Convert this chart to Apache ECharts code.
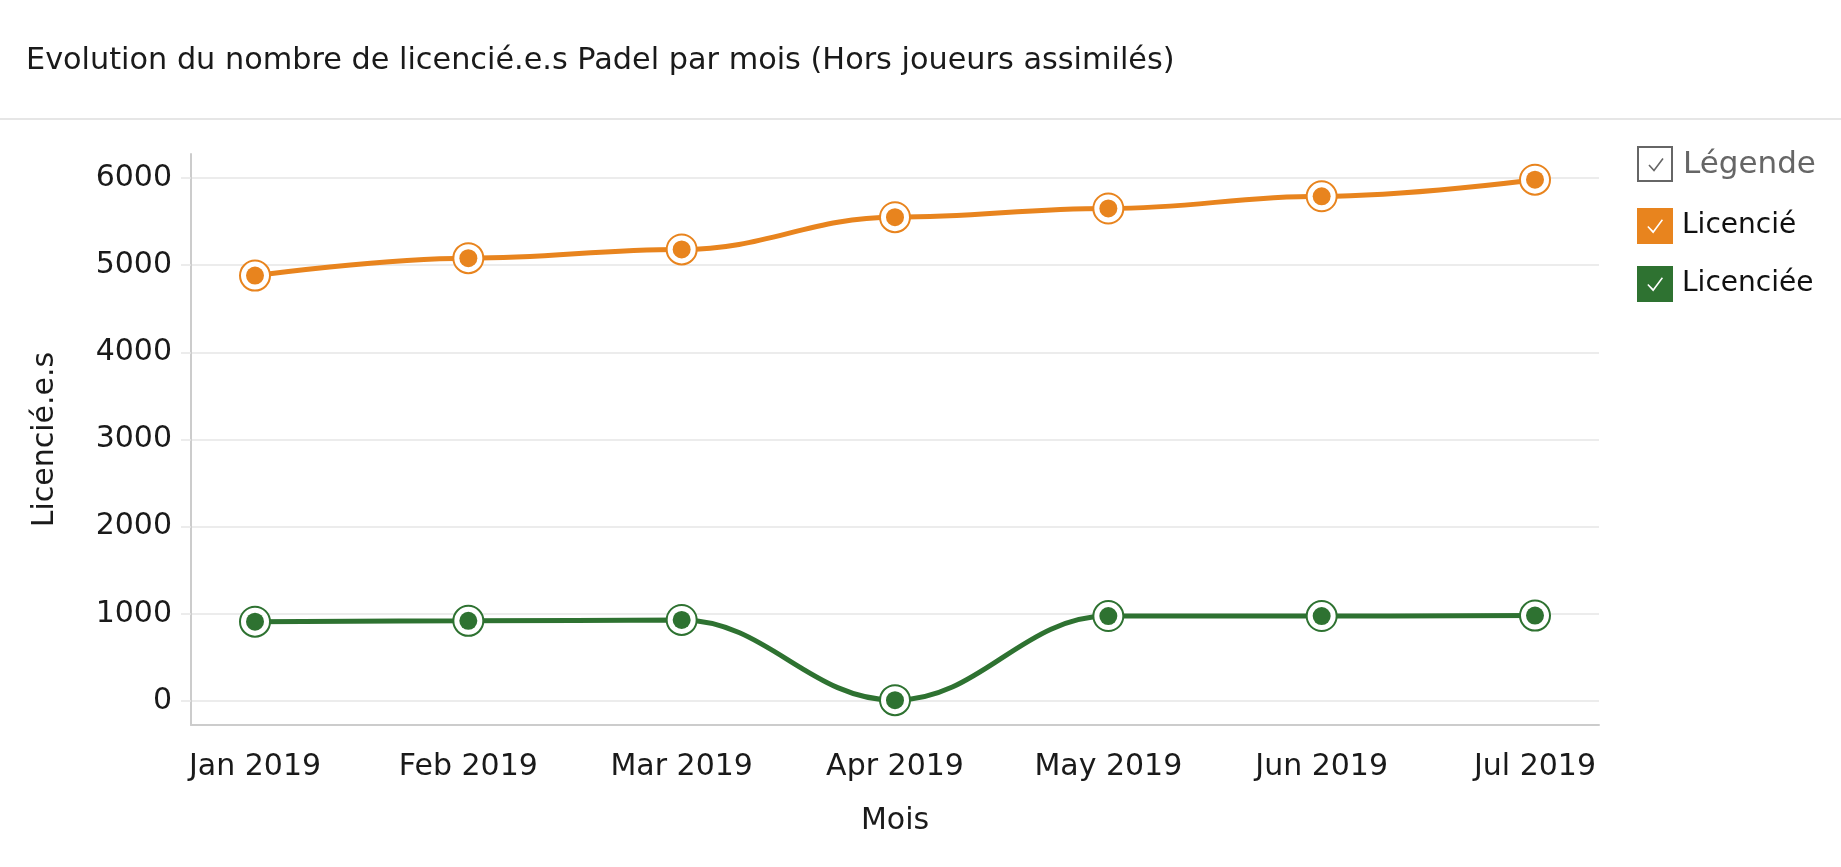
<!DOCTYPE html>
<html>
<head>
<meta charset="utf-8">
<script src="https://cdn.jsdelivr.net/npm/echarts@6/dist/echarts.min.js"></script>
<style>
html,body{margin:0;padding:0;background:#fff;}
#chart{width:1841px;height:867px;}
</style>
</head>
<body>
<div id="chart"></div>
<script>
const months = ['Jan 2019','Feb 2019','Mar 2019','Apr 2019','May 2019','Jun 2019','Jul 2019'];
const licencie = [4880, 5080, 5180, 5550, 5650, 5790, 5980];
const licenciee = [910, 920, 930, 10, 975, 975, 980];
const yTicks = [0, 1000, 2000, 3000, 4000, 5000, 6000];
const seriesNames = ['Licencié', 'Licenciée'];
const colors = ['#E8841E', '#2E7231'];

const FONT = '"DejaVu Sans"';
const checkIcon = 'path://M0 0 L36 0 L36 36 L0 36 Z M16.2 25.4 L26 12.2 L24.8 11.3 L16.2 22.8 L11.3 17.9 L10.3 19 Z';

function pairs(arr){ return arr.map((v,i)=>[i,v]); }

const series = [];
[licencie, licenciee].forEach((vals, k) => {
  series.push({
    name: seriesNames[k],
    type: 'line',
    data: pairs(vals),
    smooth: 0.4,
    smoothMonotone: 'x',
    symbol: 'emptyCircle',
    symbolSize: 30,
    lineStyle: { color: colors[k], width: 5 },
    itemStyle: { color: colors[k], borderColor: colors[k], borderWidth: 2.6 },
    z: 2
  });
  series.push({
    name: seriesNames[k],
    type: 'scatter',
    data: pairs(vals),
    symbol: 'circle',
    symbolSize: 18,
    itemStyle: { color: colors[k], opacity: 1 },
    z: 3
  });
});

const chart = echarts.init(document.getElementById('chart'));
chart.setOption({
  animation: false,
  color: colors,
  title: {
    text: 'Evolution du nombre de licencié.e.s Padel par mois (Hors joueurs assimilés)',
    left: 26, top: 46, padding: 0,
    textStyle: { fontFamily: FONT, fontSize: 30.3, fontWeight: 'normal', color: '#1a1a1a' }
  },
  graphic: [
    { type: 'line', shape: { x1: 0, y1: 119, x2: 1841, y2: 119 }, style: { stroke: '#e6e6e6', lineWidth: 2 } },
    { type: 'rect', shape: { x: 1638, y: 147, width: 34, height: 34 }, style: { fill: '#fff', stroke: '#666', lineWidth: 2 } },
    { type: 'polyline', shape: { points: [[1649,165],[1654,170.5],[1663,158.5]] }, style: { stroke: '#666', lineWidth: 1.6, fill: null } },
    { type: 'text', x: 1683, y: 165, style: { text: 'Légende', fontFamily: FONT, fontSize: 31, fill: '#666', verticalAlign: 'middle' } }
  ],
  legend: {
    data: seriesNames,
    orient: 'vertical',
    left: 1637, top: 208,
    padding: 0,
    itemGap: 22,
    itemWidth: 36, itemHeight: 36,
    icon: checkIcon,
    itemStyle: { borderWidth: 0 },
    textStyle: { fontFamily: FONT, fontSize: 28, color: '#111', padding: [0,0,0,4] }
  },
  grid: { left: 191, right: 242, top: 154, bottom: 142 },
  xAxis: {
    type: 'value',
    min: -0.3, max: 6.3,
    name: 'Mois',
    nameLocation: 'middle',
    nameGap: 81,
    nameTextStyle: { fontFamily: FONT, fontSize: 30, color: '#1a1a1a' },
    axisLine: { show: true, onZero: false, lineStyle: { color: '#cccccc', width: 2 } },
    axisTick: { show: false },
    splitLine: { show: false },
    axisLabel: {
      customValues: [0,1,2,3,4,5,6],
      formatter: v => months[Math.round(v)],
      fontFamily: FONT, fontSize: 30, color: '#1a1a1a', margin: 27
    }
  },
  yAxis: {
    type: 'value',
    min: -275, max: 6275,
    name: 'Licencié.e.s',
    nameLocation: 'middle',
    nameGap: 131,
    nameTextStyle: { fontFamily: FONT, fontSize: 30, color: '#1a1a1a' },
    axisLine: { show: true, onZero: false, lineStyle: { color: '#cccccc', width: 2 } },
    axisTick: { show: true, customValues: yTicks, length: 10, lineStyle: { color: '#e6e6e6', width: 1.5 } },
    splitLine: { show: true, lineStyle: { color: '#e6e6e6', width: 1.5 } },
    axisLabel: {
      customValues: yTicks,
      formatter: v => String(v),
      fontFamily: FONT, fontSize: 30, color: '#1a1a1a', margin: 19
    }
  },
  series: series
});
</script>
</body>
</html>
